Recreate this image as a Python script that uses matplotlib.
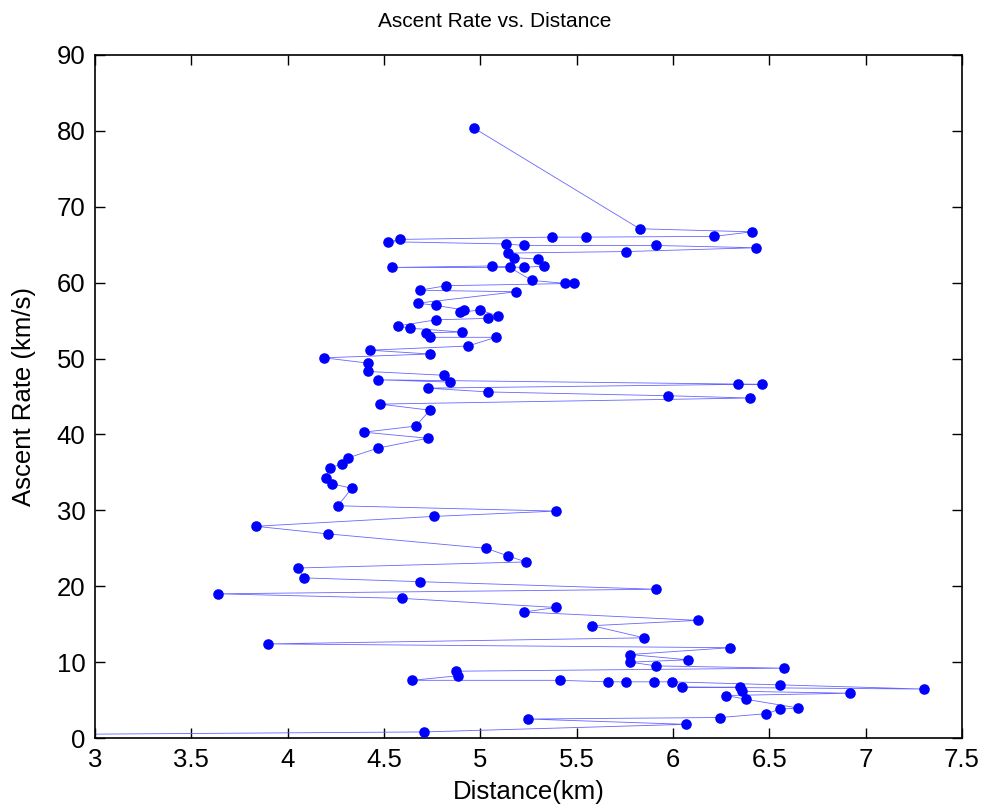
import matplotlib
matplotlib.use("Agg")
import matplotlib.pyplot as plt

# Distance (km) and ascent rate (km/s) samples, in recording order
distance_km = [
    4.965, 5.827, 6.41, 6.213, 5.548, 5.37, 4.582, 4.52, 5.133, 5.225,
    5.912, 6.43, 5.757, 5.142, 5.175, 5.30, 5.329, 5.225, 5.06, 4.539,
    5.154, 5.266, 5.441, 5.486, 4.822, 4.685, 5.185, 4.676, 4.77, 4.915,
    4.894, 4.998, 5.092, 5.04, 4.77, 4.572, 4.634, 4.904, 4.72, 4.737,
    5.08, 4.936, 4.427, 4.738, 4.188, 4.416, 4.416, 4.81, 4.842, 4.468,
    6.463, 6.338, 4.728, 5.04, 5.975, 6.40, 4.478, 4.738, 4.665, 4.395,
    4.728, 4.468, 4.312, 4.281, 4.219, 4.198, 4.229, 4.333, 4.26, 5.393,
    4.759, 3.834, 4.208, 5.029, 5.143, 5.237, 4.053, 4.084, 4.686, 5.912,
    3.637, 4.593, 5.393, 5.226, 6.13, 5.58, 5.85, 3.897, 6.297, 5.777,
    6.078, 5.777, 5.912, 6.577, 4.873, 4.884, 4.645, 5.414, 5.663, 5.756,
    5.902, 5.995, 6.557, 7.305, 6.047, 6.35, 6.36, 6.92, 6.276, 6.38,
    6.65, 6.556, 6.484, 6.245, 5.247, 6.068, 4.707, 0.0,
]
ascent_rate = [
    80.4, 67.1, 66.7, 66.1, 66.0, 66.0, 65.7, 65.4, 65.1, 64.9,
    64.9, 64.6, 64.1, 63.9, 63.3, 63.1, 62.2, 62.0, 62.2, 62.0,
    62.0, 60.3, 59.9, 59.9, 59.6, 59.0, 58.8, 57.3, 57.0, 56.4,
    56.1, 56.4, 55.6, 55.3, 55.1, 54.3, 54.0, 53.5, 53.4, 52.8,
    52.8, 51.65, 51.1, 50.6, 50.1, 49.4, 48.3, 47.8, 46.9, 47.2,
    46.6, 46.6, 46.1, 45.6, 45.1, 44.8, 44.0, 43.2, 41.1, 40.3,
    39.5, 38.2, 36.9, 36.1, 35.6, 34.3, 33.5, 32.9, 30.6, 29.9,
    29.2, 27.9, 26.9, 25.0, 24.0, 23.2, 22.4, 21.1, 20.6, 19.6,
    19.0, 18.4, 17.2, 16.6, 15.5, 14.8, 13.2, 12.4, 11.9, 11.0,
    10.3, 10.0, 9.5, 9.2, 8.8, 8.2, 7.6, 7.6, 7.4, 7.4,
    7.4, 7.4, 7.0, 6.45, 6.7, 6.7, 6.15, 5.9, 5.6, 5.1,
    3.95, 3.8, 3.2, 2.7, 2.5, 1.8, 0.8, 0.0,
]

x_ticks = [3, 3.5, 4, 4.5, 5, 5.5, 6, 6.5, 7, 7.5]
x_tick_labels = ["3", "3.5", "4", "4.5", "5", "5.5", "6", "6.5", "7", "7.5"]
y_ticks = [0, 10, 20, 30, 40, 50, 60, 70, 80, 90]

plt.rcParams["font.family"] = ["Liberation Sans", "DejaVu Sans"]

fig = plt.figure(figsize=(9.84, 8.10), dpi=100)
ax = fig.add_axes([95 / 984, 72 / 810, 867 / 984, 683 / 810])

ax.plot(distance_km, ascent_rate, color=(0.4, 0.4, 1.0), linewidth=0.6,
        zorder=2)
ax.plot(distance_km, ascent_rate, linestyle="none", marker="o",
        markersize=6.6, markerfacecolor="#0000ff", markeredgecolor="#0000ff",
        zorder=3)

ax.set_xlim(3, 7.5)
ax.set_ylim(0, 90)
ax.set_xticks(x_ticks)
ax.set_xticklabels(x_tick_labels)
ax.set_yticks(y_ticks)

ax.tick_params(direction="in", length=7, width=1, labelsize=18.5,
               top=True, right=True, pad=7)
for sp in ax.spines.values():
    sp.set_linewidth(1.2)

ax.set_title("Ascent Rate vs. Distance", fontsize=15, pad=20, x=0.461)
ax.set_xlabel("Distance(km)", fontsize=18.5, labelpad=6)
ax.set_ylabel("Ascent Rate (km/s)", fontsize=18.5, labelpad=15)

fig.savefig("out.png", dpi=100)
